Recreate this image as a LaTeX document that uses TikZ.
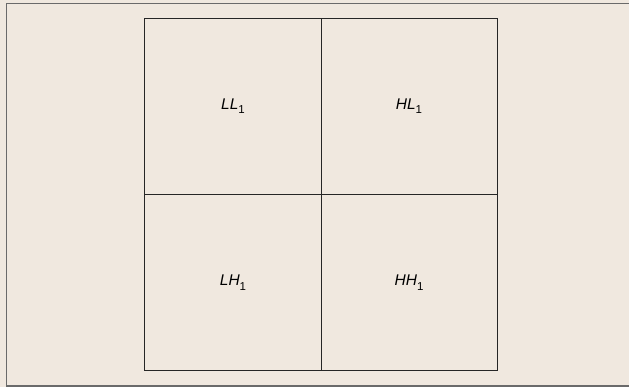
\documentclass[tikz,border=0pt]{standalone}
\usepackage{fontspec}
\setmainfont{Liberation Sans}
\definecolor{bg}{HTML}{F0E8DF}
\definecolor{frame}{HTML}{6A6A6A}
\newcommand{\lbl}[1]{\textit{#1}\raisebox{-0.28em}{\fontsize{11.5}{12}\selectfont 1}}
\begin{document}
\begin{tikzpicture}[x=1pt,y=-1pt,
  cell/.style={minimum width=176pt, minimum height=176pt, inner sep=0pt, font=\fontsize{15.5}{17}\selectfont},
  gridline/.style={draw=black!85, line width=0.9pt}]
\useasboundingbox (0,0) rectangle (629,387);
\fill[bg] (0,0) rectangle (629,387);
\draw[frame, line width=1.3pt] (629,3.5) -- (6.5,3.5) -- (6.5,386) -- (629,386);
\node[cell] (ll) at (233,106.5) {\lbl{LL}};
\node[cell] (hl) at (409,106.5) {\lbl{HL}};
\node[cell] (lh) at (233,282.5) {\lbl{LH}};
\node[cell] (hh) at (409,282.5) {\lbl{HH}};
\draw[gridline] (ll.north west) rectangle (hh.south east);
\draw[gridline] (ll.north east) -- (lh.south east);
\draw[gridline] (ll.south west) -- (hl.south east);
\end{tikzpicture}
\end{document}
